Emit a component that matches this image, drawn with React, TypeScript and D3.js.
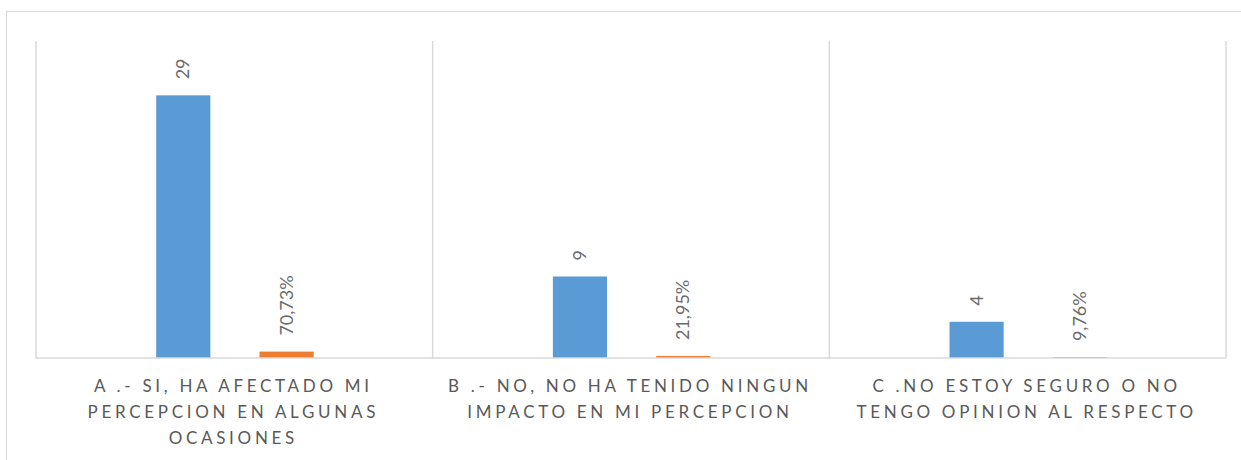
import { scaleBand, scaleLinear } from "d3";

// categories split into the lines shown under the axis
const categories = ["A", "B", "C"];
const categoryLines = [
    ["A .- SI, HA AFECTADO MI", "PERCEPCION EN ALGUNAS", "OCASIONES"],
    ["B .- NO, NO HA TENIDO NINGUN", "IMPACTO EN MI PERCEPCION"],
    ["C .NO ESTOY SEGURO O NO", "TENGO OPINION AL RESPECTO"],
];
const seriesNames = ["Frecuencia", "Porcentaje"];
const counts = [29, 9, 4];
const percents = [0.7073, 0.2195, 0.0976];
const percentLabels = ["70,73%", "21,95%", "9,76%"];
const yMax = 35;

const COLORS = ["#5B9BD5", "#ED7D31"];
const TEXT = "#595959";
const LINE = "#D9D9D9";
const FONT = "Lato, 'Open Sans', sans-serif";

export default function App() {
    const width = 1241;
    const height = 460;
    const left = 36;
    const right = 1226;
    const top = 41;
    const bottom = 358;
    const spacing = 3.7;

    const x = scaleBand().domain(categories).range([left, right]);
    const inner = scaleBand()
        .domain(seriesNames)
        .range([x.bandwidth() * 0.303, x.bandwidth() * 0.7])
        .paddingInner(0.476);
    const y = scaleLinear().domain([0, yMax]).range([bottom, top]);

    const series = [
        { name: seriesNames[0], values: counts, labels: counts.map(String) },
        { name: seriesNames[1], values: percents, labels: percentLabels },
    ];

    return (
        <svg
            width={width}
            height={height}
            style={{ position: "absolute", left: 0, top: 0, background: "#fff" }}
            fontFamily={FONT}
        >
            {/* outer chart frame (cropped on right and bottom) */}
            <rect x={6.5} y={11.5} width={1400} height={600} fill="none" stroke={LINE} />

            {/* category separators */}
            {[...categories.map((c) => x(c) ?? 0), right].map((px, i) => (
                <line
                    key={i}
                    x1={px}
                    x2={px}
                    y1={top}
                    y2={bottom}
                    stroke={LINE}
                    strokeWidth={1.5}
                />
            ))}

            {/* bars */}
            {series.map((s, si) =>
                categories.map((c, ci) => {
                    const bx = (x(c) ?? 0) + (inner(s.name) ?? 0);
                    const by = y(s.values[ci]);
                    return (
                        <rect
                            key={`${si}-${ci}`}
                            x={bx}
                            y={by}
                            width={inner.bandwidth()}
                            height={bottom - by}
                            fill={COLORS[si]}
                        />
                    );
                }),
            )}

            {/* axis line */}
            <line x1={left} x2={right} y1={bottom} y2={bottom} stroke={LINE} strokeWidth={1.5} />

            {/* data labels, rotated */}
            {series.map((s, si) =>
                categories.map((c, ci) => {
                    const cx = (x(c) ?? 0) + (inner(s.name) ?? 0) + inner.bandwidth() / 2;
                    const ty = y(s.values[ci]) - 16;
                    return (
                        <text
                            key={`l-${si}-${ci}`}
                            transform={`translate(${cx + 6},${ty}) rotate(-90)`}
                            fontSize={18}
                            fill="#6b6b6b"
                        >
                            {s.labels[ci]}
                        </text>
                    );
                }),
            )}

            {/* category labels */}
            {categories.map((c, ci) => {
                const cx = (x(c) ?? 0) + x.bandwidth() / 2 - 1;
                return (
                    <text
                        key={`c-${ci}`}
                        textAnchor="middle"
                        fontSize={17}
                        letterSpacing={spacing}
                        fill={TEXT}
                    >
                        {categoryLines[ci].map((line, li) => (
                            <tspan key={li} x={cx} y={392 + li * 26}>
                                {line}
                            </tspan>
                        ))}
                    </text>
                );
            })}
        </svg>
    );
}
